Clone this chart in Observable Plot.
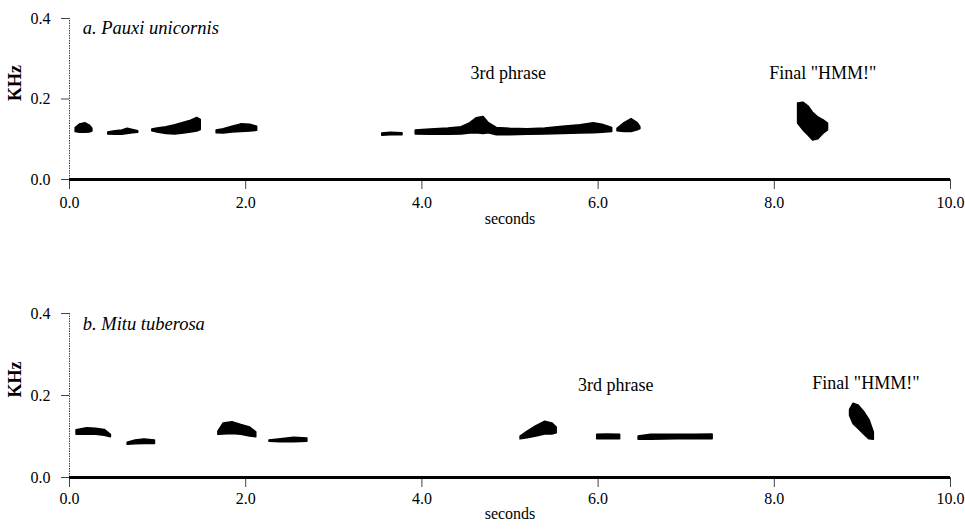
<!DOCTYPE html>
<html>
<head>
<meta charset="utf-8">
<script src="https://cdn.jsdelivr.net/npm/d3@7"></script>
<script src="https://cdn.jsdelivr.net/npm/@observablehq/plot@0.6"></script>
<style>
  html, body { margin: 0; padding: 0; background: #fff; }
  #chart { width: 965px; height: 530px; overflow: hidden; }
  #chart svg { display: block; }
  #chart svg, #chart svg text { font-family: "Liberation Serif", "DejaVu Serif", serif !important; }
</style>
</head>
<body>
<div id="chart"></div>
<script>
// ---- data ----
const xTicks = [0, 2, 4, 6, 8, 10];
const yTicks = [0, 0.2, 0.4];
const xLabel = "seconds";
const yLabel = "KHz";

// panel a: Pauxi unicornis — spectrogram blobs as [blob, seconds, low KHz, high KHz]
const titleA = "a. Pauxi unicornis";
const blobsA = [
  [1, 0.07, 0.118, 0.128], [1, 0.12, 0.116, 0.137], [1, 0.18, 0.116, 0.140], [1, 0.23, 0.117, 0.134], [1, 0.26, 0.119, 0.126],
  [2, 0.44, 0.112, 0.117], [2, 0.52, 0.111, 0.120], [2, 0.60, 0.111, 0.122], [2, 0.66, 0.113, 0.126], [2, 0.72, 0.115, 0.123], [2, 0.78, 0.116, 0.120],
  [3, 0.94, 0.120, 0.124], [3, 1.00, 0.117, 0.127], [3, 1.10, 0.113, 0.130], [3, 1.20, 0.112, 0.135], [3, 1.30, 0.114, 0.141], [3, 1.38, 0.117, 0.146], [3, 1.45, 0.119, 0.153], [3, 1.49, 0.123, 0.148],
  [4, 1.67, 0.115, 0.122], [4, 1.75, 0.114, 0.125], [4, 1.85, 0.117, 0.131], [4, 1.95, 0.118, 0.137], [4, 2.05, 0.119, 0.136], [4, 2.13, 0.121, 0.131],
  [5, 3.55, 0.109, 0.114], [5, 3.65, 0.110, 0.116], [5, 3.78, 0.110, 0.115],
  [6, 3.93, 0.112, 0.122], [6, 4.10, 0.111, 0.124], [6, 4.30, 0.111, 0.127], [6, 4.45, 0.112, 0.130], [6, 4.55, 0.114, 0.140], [6, 4.62, 0.115, 0.152], [6, 4.70, 0.113, 0.155], [6, 4.76, 0.115, 0.140],
  [6, 4.85, 0.110, 0.128], [6, 5.00, 0.110, 0.126], [6, 5.20, 0.111, 0.125], [6, 5.40, 0.112, 0.127], [6, 5.60, 0.113, 0.131], [6, 5.80, 0.114, 0.135], [6, 5.95, 0.115, 0.140], [6, 6.05, 0.116, 0.136], [6, 6.16, 0.118, 0.128],
  [7, 6.22, 0.120, 0.126], [7, 6.30, 0.118, 0.140], [7, 6.38, 0.118, 0.150], [7, 6.45, 0.122, 0.140], [7, 6.48, 0.125, 0.130],
  [8, 8.27, 0.139, 0.189], [8, 8.33, 0.122, 0.191], [8, 8.39, 0.109, 0.181], [8, 8.44, 0.097, 0.166], [8, 8.50, 0.100, 0.154], [8, 8.56, 0.114, 0.147], [8, 8.61, 0.122, 0.139]
];
const notesA = ["3rd phrase", "Final \"HMM!\""];
const notesAt = [4.98, 8.55];
const notesAf = [0.263, 0.263];

// panel b: Mitu tuberosa
const titleB = "b. Mitu tuberosa";
const blobsB = [
  [1, 0.08, 0.104, 0.115], [1, 0.20, 0.104, 0.120], [1, 0.30, 0.104, 0.119], [1, 0.40, 0.102, 0.116], [1, 0.47, 0.098, 0.104],
  [2, 0.66, 0.080, 0.085], [2, 0.75, 0.081, 0.090], [2, 0.85, 0.082, 0.093], [2, 0.97, 0.082, 0.090],
  [3, 1.69, 0.104, 0.112], [3, 1.75, 0.105, 0.132], [3, 1.85, 0.106, 0.135], [3, 1.95, 0.104, 0.128], [3, 2.05, 0.100, 0.122], [3, 2.12, 0.098, 0.110],
  [4, 2.27, 0.087, 0.090], [4, 2.40, 0.086, 0.093], [4, 2.55, 0.086, 0.097], [4, 2.70, 0.087, 0.095],
  [5, 5.12, 0.093, 0.100], [5, 5.20, 0.096, 0.112], [5, 5.30, 0.100, 0.125], [5, 5.40, 0.105, 0.136], [5, 5.48, 0.105, 0.132], [5, 5.53, 0.108, 0.122],
  [6, 5.99, 0.093, 0.104], [6, 6.10, 0.093, 0.105], [6, 6.25, 0.093, 0.104],
  [7, 6.46, 0.092, 0.100], [7, 6.60, 0.092, 0.104], [7, 6.90, 0.093, 0.104], [7, 7.10, 0.093, 0.104], [7, 7.30, 0.093, 0.105],
  [8, 8.86, 0.150, 0.165], [8, 8.90, 0.130, 0.180], [8, 8.96, 0.118, 0.175], [8, 9.02, 0.105, 0.160], [8, 9.08, 0.093, 0.140], [8, 9.13, 0.092, 0.110]
];
const notesB = ["3rd phrase", "Final \"HMM!\""];
const notesBt = [6.20, 9.04];
const notesBf = [0.224, 0.229];

// ---- drawing ----
function panel({blobs, title, notes, noteT, noteF, marginTop, marginBottom, tickPad, secDy}) {
  const noteRows = notes.map((n, i) => ({n, t: noteT[i], f: noteF[i]}));
  return Plot.plot({
    width: 965,
    height: 265,
    marginLeft: 69,
    marginRight: 15,
    marginTop,
    marginBottom,
    style: {fontSize: "16px", background: "white", color: "black"},
    x: {domain: [0, 10]},
    y: {domain: [0, 0.4]},
    marks: [
      Plot.ruleX([0], {y1: 0, y2: 0.4, stroke: "#444", strokeWidth: 1, strokeDasharray: "1.5,1"}),
      Plot.axisY({ticks: yTicks, tickFormat: d3.format(".1f"), tickSize: 8, tickPadding: 11, label: null, fontSize: 16, stroke: "#444"}),
      Plot.axisX({ticks: xTicks, tickFormat: d3.format(".1f"), tickSize: 10, tickPadding: tickPad, label: null, fontSize: 16, stroke: "#444"}),
      Plot.areaY(blobs, {x: d => d[1], y1: d => d[2], y2: d => d[3], z: d => d[0], fill: "black", stroke: "black", strokeWidth: 1.5, strokeLinejoin: "round", curve: "linear"}),
      Plot.ruleY([0], {x1: 0, x2: 10, stroke: "black", strokeWidth: 3}),
      Plot.text([title], {x: 0.15, y: 0.375, text: d => d, textAnchor: "start", fontStyle: "italic", fontSize: 18.5}),
      Plot.text(noteRows, {x: "t", y: "f", text: "n", fontSize: 18}),
      Plot.text([yLabel], {frameAnchor: "left", y: 0.195, text: d => d, rotate: -90, dx: -54, fontSize: 18, fontWeight: "bold"}),
      Plot.text([xLabel], {frameAnchor: "bottom", text: d => d, dy: secDy, fontSize: 16})
    ]
  });
}

const chart = document.getElementById("chart");
chart.append(panel({blobs: blobsA, title: titleA, notes: notesA, noteT: notesAt, noteF: notesAf,
  marginTop: 18, marginBottom: 86, tickPad: 7, secDy: 44}));
chart.append(panel({blobs: blobsB, title: titleB, notes: notesB, noteT: notesBt, noteF: notesBf,
  marginTop: 48, marginBottom: 53, tickPad: 5, secDy: 41}));
</script>
</body>
</html>
